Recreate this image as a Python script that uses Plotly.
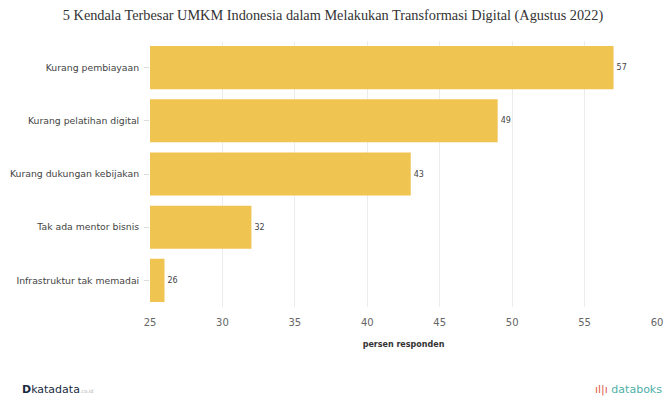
import plotly.graph_objects as go

categories = ["Kurang pembiayaan", "Kurang pelatihan digital", "Kurang dukungan kebijakan",
              "Tak ada mentor bisnis", "Infrastruktur tak memadai"]
values = [57, 49, 43, 32, 26]
tick_vals = [25, 30, 35, 40, 45, 50, 55, 60]

W, H = 666, 401
L, R, T, B = 150, 9, 41, 94
pw, ph = W - L - R, H - T - B

fig = go.Figure(go.Bar(
    x=values, y=categories, orientation="h",
    marker=dict(color="#F0C451", line=dict(width=0)),
    text=[str(v) for v in values], textposition="outside",
    textfont=dict(size=8, color="#444", family="DejaVu Sans"),
    cliponaxis=False,
))

fig.update_layout(
    width=W, height=H,
    paper_bgcolor="white", plot_bgcolor="white",
    margin=dict(l=L, r=R, t=T, b=B, autoexpand=False),
    bargap=0.19,
    showlegend=False,
    title=dict(text="5 Kendala Terbesar UMKM Indonesia dalam Melakukan Transformasi Digital (Agustus 2022)",
               x=0.5, xanchor="center", y=1 - 15 / H, yanchor="middle",
               font=dict(family="Liberation Serif", size=14.3, color="#333")),
    xaxis=dict(range=[25, 60], tickvals=tick_vals, showgrid=True, gridcolor="#ECECEC",
               gridwidth=1, zeroline=False, showline=False, automargin=False,
               ticklabelstandoff=8,
               tickfont=dict(family="DejaVu Sans", size=10, color="#666"),
               title=dict(text="<b>persen responden</b>", font=dict(family="DejaVu Sans", size=8, color="#333"),
                          standoff=14)),
    yaxis=dict(autorange="reversed", showgrid=False, ticks="outside", ticklen=5, tickcolor="#ddd",
               automargin=False,
               tickfont=dict(family="DejaVu Sans", size=9.3, color="#444"), ticksuffix=" "),
    annotations=[
        dict(text="<b>D</b>katadata<span style='font-size:5px;color:#aaa'>.co.id</span>",
             x=(20 - L) / pw, y=-(389 - (T + ph)) / ph, xref="paper", yref="paper", showarrow=False,
             xanchor="left", yanchor="middle",
             font=dict(family="DejaVu Sans", size=11, color="#1a2a44")),
        dict(text="<span style='color:#e05a4a'>ıl|ı</span> databoks",
             x=(664 - L) / pw, y=-(389 - (T + ph)) / ph, xref="paper", yref="paper", showarrow=False,
             xanchor="right", yanchor="middle",
             font=dict(family="DejaVu Sans", size=11, color="#4fb0a8")),
    ],
)

fig.write_html("out.html", config={"displayModeBar": False},
               post_script="document.body.style.margin='0';document.body.style.padding='0';")
